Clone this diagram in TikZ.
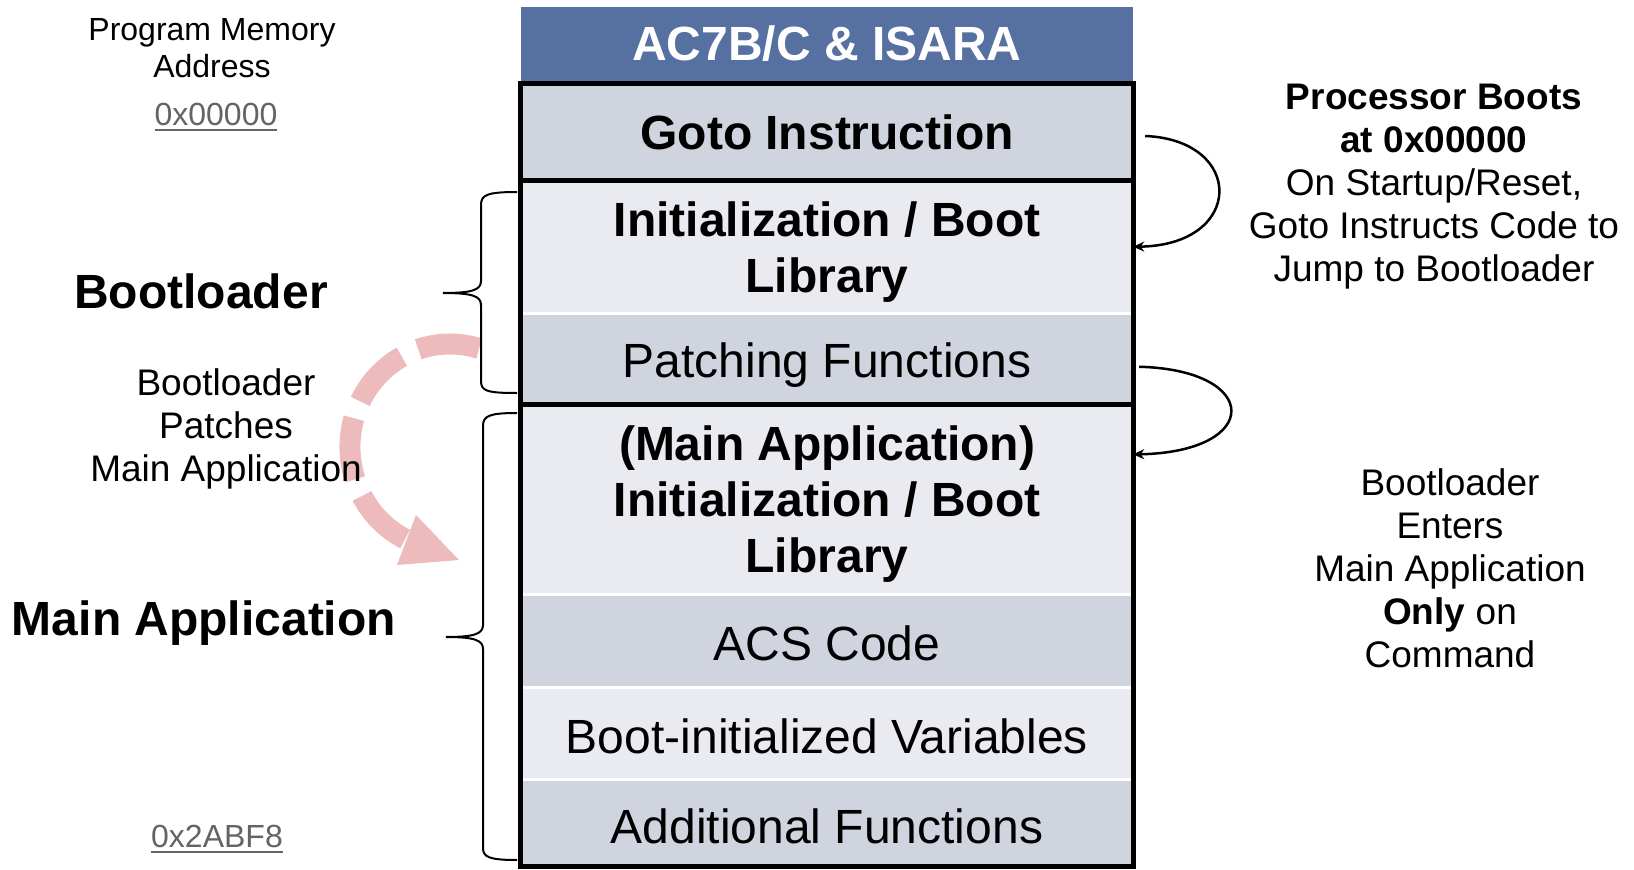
\documentclass[tikz,border=0pt]{standalone}
\usepackage{fontspec}
\setmainfont{Liberation Sans}
\usetikzlibrary{arrows.meta,calc}
\definecolor{hdrblue}{RGB}{85,112,161}
\definecolor{rowdark}{RGB}{207,212,223}
\definecolor{rowlight}{RGB}{233,235,241}
\definecolor{pinkarr}{RGB}{237,187,187}
\definecolor{addrgray}{RGB}{100,100,100}
\newcommand\myul[1]{\setbox0\hbox{#1}\rlap{\rule[-5pt]{\wd0}{2pt}}\box0}
\begin{document}
\begin{tikzpicture}[x=1pt,y=1pt,
  rowbox/.style={rectangle, inner sep=0pt, minimum width=612pt, align=center,
    font=\fontsize{48}{56}\selectfont},
  boldrow/.style={rowbox, font=\fontsize{48}{56}\selectfont\bfseries},
  sepline/.style={white, line width=3pt},
  thickline/.style={black, line width=5pt},
  bracestyle/.style={black, line width=2pt},
  curvearrow/.style={black, line width=2.5pt, -{Stealth[length=11pt,width=10pt]}},
  pinkdash/.style={pinkarr, line width=21pt, dash pattern=on 62pt off 18pt},
  midtext/.style={font=\fontsize{37}{43}\selectfont, align=center},
  addrtext/.style={font=\fontsize{32}{37}\selectfont, text=addrgray}
]
\useasboundingbox (0,0) rectangle (1634,-870);

% pink dashed curved arrow (behind everything)
\draw[pinkdash] (479.2,-348.5) arc[start angle=73, end angle=244, x radius=100, y radius=103];
\fill[pinkarr] (397,-565) -- (416,-515) -- (459,-560) -- cycle;

% braces
\draw[bracestyle] (517,-192) .. controls (487,-192) and (481,-195) .. (481,-205)
  -- (481,-281) .. controls (481,-290) and (472,-293) .. (443,-293)
  .. controls (472,-293) and (481,-296) .. (481,-305)
  -- (481,-381) .. controls (481,-391) and (487,-393) .. (517,-393);
\draw[bracestyle] (517,-413) .. controls (489,-413) and (483,-416) .. (483,-426)
  -- (483,-625) .. controls (483,-634) and (474,-637) .. (446,-637)
  .. controls (474,-637) and (483,-640) .. (483,-649)
  -- (483,-848) .. controls (483,-857) and (489,-860) .. (517,-860);

% header
\node[boldrow, fill=hdrblue, text=white, minimum height=74pt] (hdr) at (827,-44) {AC7B/C \& ISARA};

% memory rows
\node[boldrow, fill=rowdark, minimum height=97pt, text height=35pt, text depth=0pt] (goto) at (827,-132) {Goto Instruction};
\node[boldrow, fill=rowlight, minimum height=132.5pt, text depth=0pt] (init) at (827,-246.75) {Initialization / Boot\\Library};
\node[rowbox, fill=rowdark, minimum height=91.5pt, text height=37pt, text depth=0pt] (patch) at (827,-358.75) {Patching Functions};
\node[boldrow, fill=rowlight, minimum height=189.8pt, text depth=0pt, yshift=0pt] (mainit) at (827,-499.4) {(Main Application)\\Initialization / Boot\\Library};
\node[rowbox, fill=rowdark, minimum height=92.7pt, text height=40pt, text depth=0pt] (acs) at (827,-640.65) {ACS Code};
\node[rowbox, fill=rowlight, minimum height=92pt, text height=40pt, text depth=0pt] (vars) at (827,-733) {Boot-initialized Variables};
\node[rowbox, fill=rowdark, minimum height=87pt, text height=42pt, text depth=0pt] (addf) at (827,-822.5) {Additional Functions};

% separators
\draw[sepline] (init.south west) -- (init.south east);
\draw[sepline] (mainit.south west) -- (mainit.south east);
\draw[sepline] (acs.south west) -- (acs.south east);
\draw[sepline] (vars.south west) -- (vars.south east);
\draw[thickline] (goto.south west) -- (goto.south east);
\draw[thickline] (patch.south west) -- (patch.south east);
\draw[thickline] (goto.north west) rectangle (addf.south east);

% curved arrows
\draw[curvearrow] ([shift={(12,-4)}]goto.east) .. controls (1245,-140) and (1245,-245) .. (init.east);
\draw[curvearrow] ([shift={(6,-8)}]patch.east) .. controls (1262,-370) and (1262,-452) .. ([yshift=45pt]mainit.east);

% left texts
\node[font=\fontsize{32}{37}\selectfont, align=center] (pma) at (212,-48.5) {Program Memory\\Address};
\node[addrtext] (a0) at (216,-117) {\myul{0x00000}};
\node[font=\fontsize{48}{56}\selectfont\bfseries] (blab) at (201,-291) {Bootloader};
\node[midtext] (patchnote) at (226,-428.5) {Bootloader\\Patches\\Main Application};
\node[font=\fontsize{48}{56}\selectfont\bfseries] (malab) at (204,-623) {Main Application};
\node[addrtext] (a1) at (217,-839) {\myul{0x2ABF8}};

% right texts
\node[midtext] (bootnote) at (1434,-186.5) {\textbf{Processor Boots}\\\textbf{at 0x00000}\\On Startup/Reset,\\Goto Instructs Code to\\Jump to Bootloader};
\node[midtext] (enternote) at (1450,-568) {Bootloader\\Enters\\Main Application\\\textbf{Only} on\\Command};
\end{tikzpicture}
\end{document}
